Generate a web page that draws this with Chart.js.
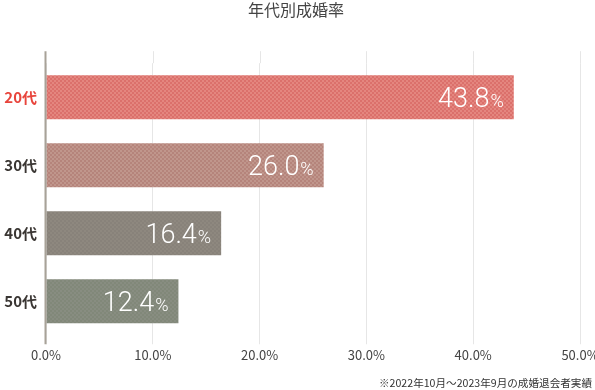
<!DOCTYPE html>
<html>
<head>
<meta charset="utf-8">
<script src="https://cdn.jsdelivr.net/npm/chart.js@4/dist/chart.umd.min.js"></script>
<style>
html,body{margin:0;padding:0;background:#fff;}
#wrap{width:595px;height:390px;position:relative;}
</style>
</head>
<body>
<div id="wrap"><canvas id="c" width="595" height="390"></canvas></div>
<script>
const titleText = '年代別成婚率';
const footnoteText = '※2022年10月～2023年9月の成婚退会者実績';
const categories = ['20代', '30代', '40代', '50代'];
const rates = [43.8, 26.0, 16.4, 12.4];
const labelColors = ['#e8453c', '#3a3633', '#3a3633', '#3a3633'];
const barLight = ['#e4867f', '#c0968c', '#8e887f', '#888d81'];
const barDark = ['#db706b', '#b5847b', '#88827a', '#818879'];
const xTickValues = [0, 10, 20, 30, 40, 50];

function checker(light, dark) {
  const c = document.createElement('canvas');
  c.width = 4; c.height = 4;
  const g = c.getContext('2d');
  g.fillStyle = light; g.fillRect(0, 0, 4, 4);
  g.fillStyle = dark; g.fillRect(0, 0, 2, 2); g.fillRect(2, 2, 2, 2);
  return g.createPattern(c, 'repeat');
}
const ctx = document.getElementById('c').getContext('2d');
const patterns = categories.map((_, i) => checker(barLight[i], barDark[i]));

const JP = '"Noto Sans CJK JP", "Noto Sans", sans-serif';

const extras = {
  id: 'extras',
  beforeDatasetsDraw(chart) {
    const {ctx, chartArea, scales} = chart;
    ctx.save();
    ctx.strokeStyle = '#e6e6e6';
    ctx.lineWidth = 1;
    xTickValues.forEach(v => {
      if (v === 0) return;
      const x = Math.round(scales.x.getPixelForValue(v)) + 0.5;
      ctx.beginPath();
      ctx.moveTo(x, chartArea.top - 12);
      ctx.lineTo(x, chartArea.top);
      ctx.stroke();
    });
    ctx.restore();
  },
  afterDatasetsDraw(chart) {
    const {ctx, chartArea, scales} = chart;
    ctx.save();
    const x0 = scales.x.getPixelForValue(0);
    ctx.strokeStyle = '#a8a298';
    ctx.lineWidth = 2;
    ctx.beginPath();
    ctx.moveTo(x0 - 0.5, chartArea.top - 12);
    ctx.lineTo(x0 - 0.5, chartArea.bottom + 9);
    ctx.stroke();

    const meta = chart.getDatasetMeta(0);
    ctx.fillStyle = '#ffffff';
    ctx.textBaseline = 'alphabetic';
    meta.data.forEach((bar, i) => {
      const num = rates[i].toFixed(1);
      const right = bar.x - 10;
      const base = bar.y + 9.5;
      ctx.font = '300 18px Roboto, "Liberation Sans", sans-serif';
      const pw = ctx.measureText('%').width;
      ctx.textAlign = 'right';
      ctx.fillText('%', right, base);
      ctx.font = '300 27px Roboto, "Liberation Sans", sans-serif';
      ctx.fillText(num, right - pw - 1, base);
    });
    ctx.restore();
  }
};

new Chart(ctx, {
  type: 'bar',
  data: {
    labels: categories,
    datasets: [{
      data: rates,
      backgroundColor: patterns,
      borderWidth: 0,
      categoryPercentage: 1,
      barPercentage: 0.647
    }]
  },
  options: {
    indexAxis: 'y',
    responsive: false,
    animation: false,
    events: [],
    layout: { padding: { left: 0, right: 3, top: 0, bottom: 0 } },
    plugins: {
      legend: { display: false },
      tooltip: { enabled: false },
      title: {
        display: true,
        text: titleText,
        color: '#444444',
        font: { family: JP, size: 16, weight: 'normal' },
        padding: { top: 0, bottom: 44 }
      },
      subtitle: {
        display: true,
        text: footnoteText,
        position: 'bottom',
        align: 'end',
        color: '#333333',
        font: { family: JP, size: 10.6, weight: 'normal' },
        padding: { top: 0, bottom: 1 }
      }
    },
    scales: {
      x: {
        type: 'linear',
        min: 0,
        max: 50,
        afterFit(scale) { scale.height = 41; scale.paddingRight = 15; scale.paddingLeft = 0; },
        afterBuildTicks(scale) { scale.ticks = xTickValues.map(v => ({ value: v })); },
        ticks: {
          callback: v => Number(v).toFixed(1) + '%',
          color: '#444444',
          font: { family: JP, size: 13 },
          padding: 3,
          maxRotation: 0
        },
        grid: {
          color: '#e6e6e6',
          tickColor: '#e6e6e6',
          tickLength: 9,
          drawTicks: true
        },
        border: { display: false }
      },
      y: {
        afterFit(scale) { scale.width = 46; },
        ticks: {
          color: ctx2 => labelColors[ctx2.index],
          font: { family: JP, size: 15, weight: 'bold' },
          padding: 9
        },
        grid: { display: false, drawTicks: false },
        border: { display: false }
      }
    }
  },
  plugins: [extras]
});
</script>
</body>
</html>
